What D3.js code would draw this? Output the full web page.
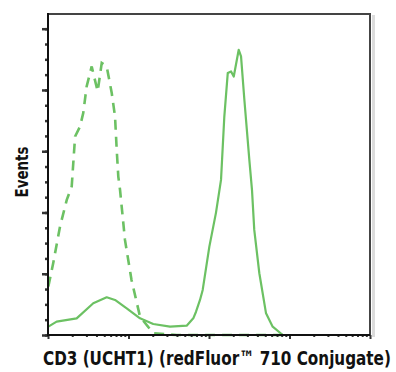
<!DOCTYPE html>
<html lang="en">
<head>
<meta charset="UTF-8">
<title>CD3 (UCHT1) histogram</title>
<script src="https://cdnjs.cloudflare.com/ajax/libs/d3/7.8.5/d3.min.js"></script>
<style>
    body { margin: 0; background: #fff; }
    svg text { font-family: "Liberation Sans Narrow", "DejaVu Sans Condensed", "Roboto", sans-serif; font-weight: bold; fill: #111; }
</style>
</head>
<body>
<svg width="396" height="372"></svg>
<script>
    // fluorescence (log) vs events
    const positiveX = [1.01, 1.28, 2.27, 3.65, 5.36, 6.8, 9.5, 13.9, 20.3, 32.8, 52.8, 63.8, 69, 77.3, 83.5,
        101, 122, 141, 155, 171, 188, 203, 234, 250, 275, 317, 342, 365, 422, 511, 618, 824, 10000];
    const positiveY = [6.8, 10.9, 13.6, 25.9, 30.8, 28.6, 21.8, 13.6, 9.0, 6.8, 7.6, 13.6, 19.0, 28.6, 36.8,
        72.1, 99.7, 126.6, 178.3, 213.8, 215.1, 211, 232.8, 227.4, 192, 143, 118.5, 85.8, 50.4, 17.7, 6.8, 0, 0];

    const controlX = [1.01, 1.16, 1.41, 1.71, 1.97, 2.17, 2.5, 2.74, 3.02, 3.49, 4.14, 4.65, 5.36, 6.19, 6.8,
        7.14, 7.47, 7.85, 9.04, 10.9, 13.9, 20.3, 39.7, 1000];
    const controlY = [39.5, 58.6, 88.5, 110.3, 121.2, 162, 170.2, 181.1, 202.9, 219.2, 198.8, 222, 219.2, 197.5, 178.4,
        151.1, 129.3, 118.5, 77.6, 44.9, 15, 1.4, 0, 0];

    const yMajorTicks = [0, 50, 100, 150, 200, 250];

    const svg = d3.select("svg");
    const plotLeft = 48, plotRight = 370, plotTop = 14, plotBottom = 335;

    const x = d3.scaleLog().domain([1, 10000]).range([plotLeft, plotRight]);
    const y = d3.scaleLinear().domain([0, 262]).range([plotBottom, plotTop]);

    // frame shadow + top/right border
    svg.append("rect").attr("x", plotRight + 2).attr("y", plotTop + 1).attr("width", 3)
        .attr("height", plotBottom - plotTop + 1).attr("fill", "#dcdcdc");
    svg.append("path")
        .attr("d", `M${plotLeft},${plotTop}H${plotRight}V${plotBottom}`)
        .attr("fill", "none").attr("stroke", "#444").attr("stroke-width", 2);

    const green = "#6cc163";
    const line = d3.line().x(d => x(d[0])).y(d => y(d[1]));

    svg.append("path")
        .datum(d3.zip(controlX, controlY))
        .attr("d", line)
        .attr("fill", "none").attr("stroke", green).attr("stroke-width", 2.6)
        .attr("stroke-dasharray", "10,7");

    svg.append("path")
        .datum(d3.zip(positiveX, positiveY))
        .attr("d", line)
        .attr("fill", "none").attr("stroke", green).attr("stroke-width", 2.2)
        .attr("stroke-linejoin", "round");

    // y axis: major + minor ticks
    const yAxis = svg.append("g").attr("transform", `translate(${plotLeft},0)`);
    yAxis.call(d3.axisLeft(y).tickValues(d3.range(0, 262, 12.5)).tickSize(3).tickFormat(""));
    yAxis.append("g").call(d3.axisLeft(y).tickValues(yMajorTicks).tickSize(6).tickFormat(""));
    yAxis.selectAll("path.domain").remove();
    yAxis.selectAll("line").attr("stroke", "#333").attr("stroke-width", 1.5);
    yAxis.selectAll("g g.tick line").attr("stroke-width", 2.5);

    // x axis: log ticks
    const xMinor = [];
    [1, 10, 100, 1000].forEach(d => d3.range(2, 10).forEach(k => xMinor.push(d * k)));
    const xAxis = svg.append("g").attr("transform", `translate(0,${plotBottom})`);
    xAxis.call(d3.axisBottom(x).tickValues(xMinor).tickSize(2).tickFormat(""));
    xAxis.append("g").call(d3.axisBottom(x).tickValues([1, 10, 100, 1000, 10000]).tickSize(4).tickFormat(""));
    xAxis.selectAll("path.domain").remove();
    xAxis.selectAll("line").attr("stroke", "#333").attr("stroke-width", 1.2);
    xAxis.selectAll("g g.tick line").attr("stroke-width", 2);

    svg.append("line").attr("x1", plotLeft).attr("x2", plotLeft).attr("y1", plotTop - 1).attr("y2", plotBottom + 1)
        .attr("stroke", "#111").attr("stroke-width", 2);
    svg.append("line").attr("x1", plotLeft - 1).attr("x2", plotRight).attr("y1", plotBottom).attr("y2", plotBottom)
        .attr("stroke", "#111").attr("stroke-width", 2);

    // labels -- squeeze horizontally with a transform so the box stays honest
    const xLabel = svg.append("text")
        .attr("font-size", 20)
        .text("CD3 (UCHT1) (redFluor™ 710 Conjugate)");
    const xLabelScale = 348 / xLabel.node().getComputedTextLength();
    xLabel.attr("transform", `translate(43,365) scale(${xLabelScale},1)`);

    const yLabel = svg.append("text")
        .attr("text-anchor", "middle")
        .attr("font-size", 17)
        .text("Events");
    const yLabelScale = 51 / yLabel.node().getComputedTextLength();
    yLabel.attr("transform", `translate(28,172) rotate(-90) scale(${yLabelScale},1)`);
</script>
</body>
</html>
